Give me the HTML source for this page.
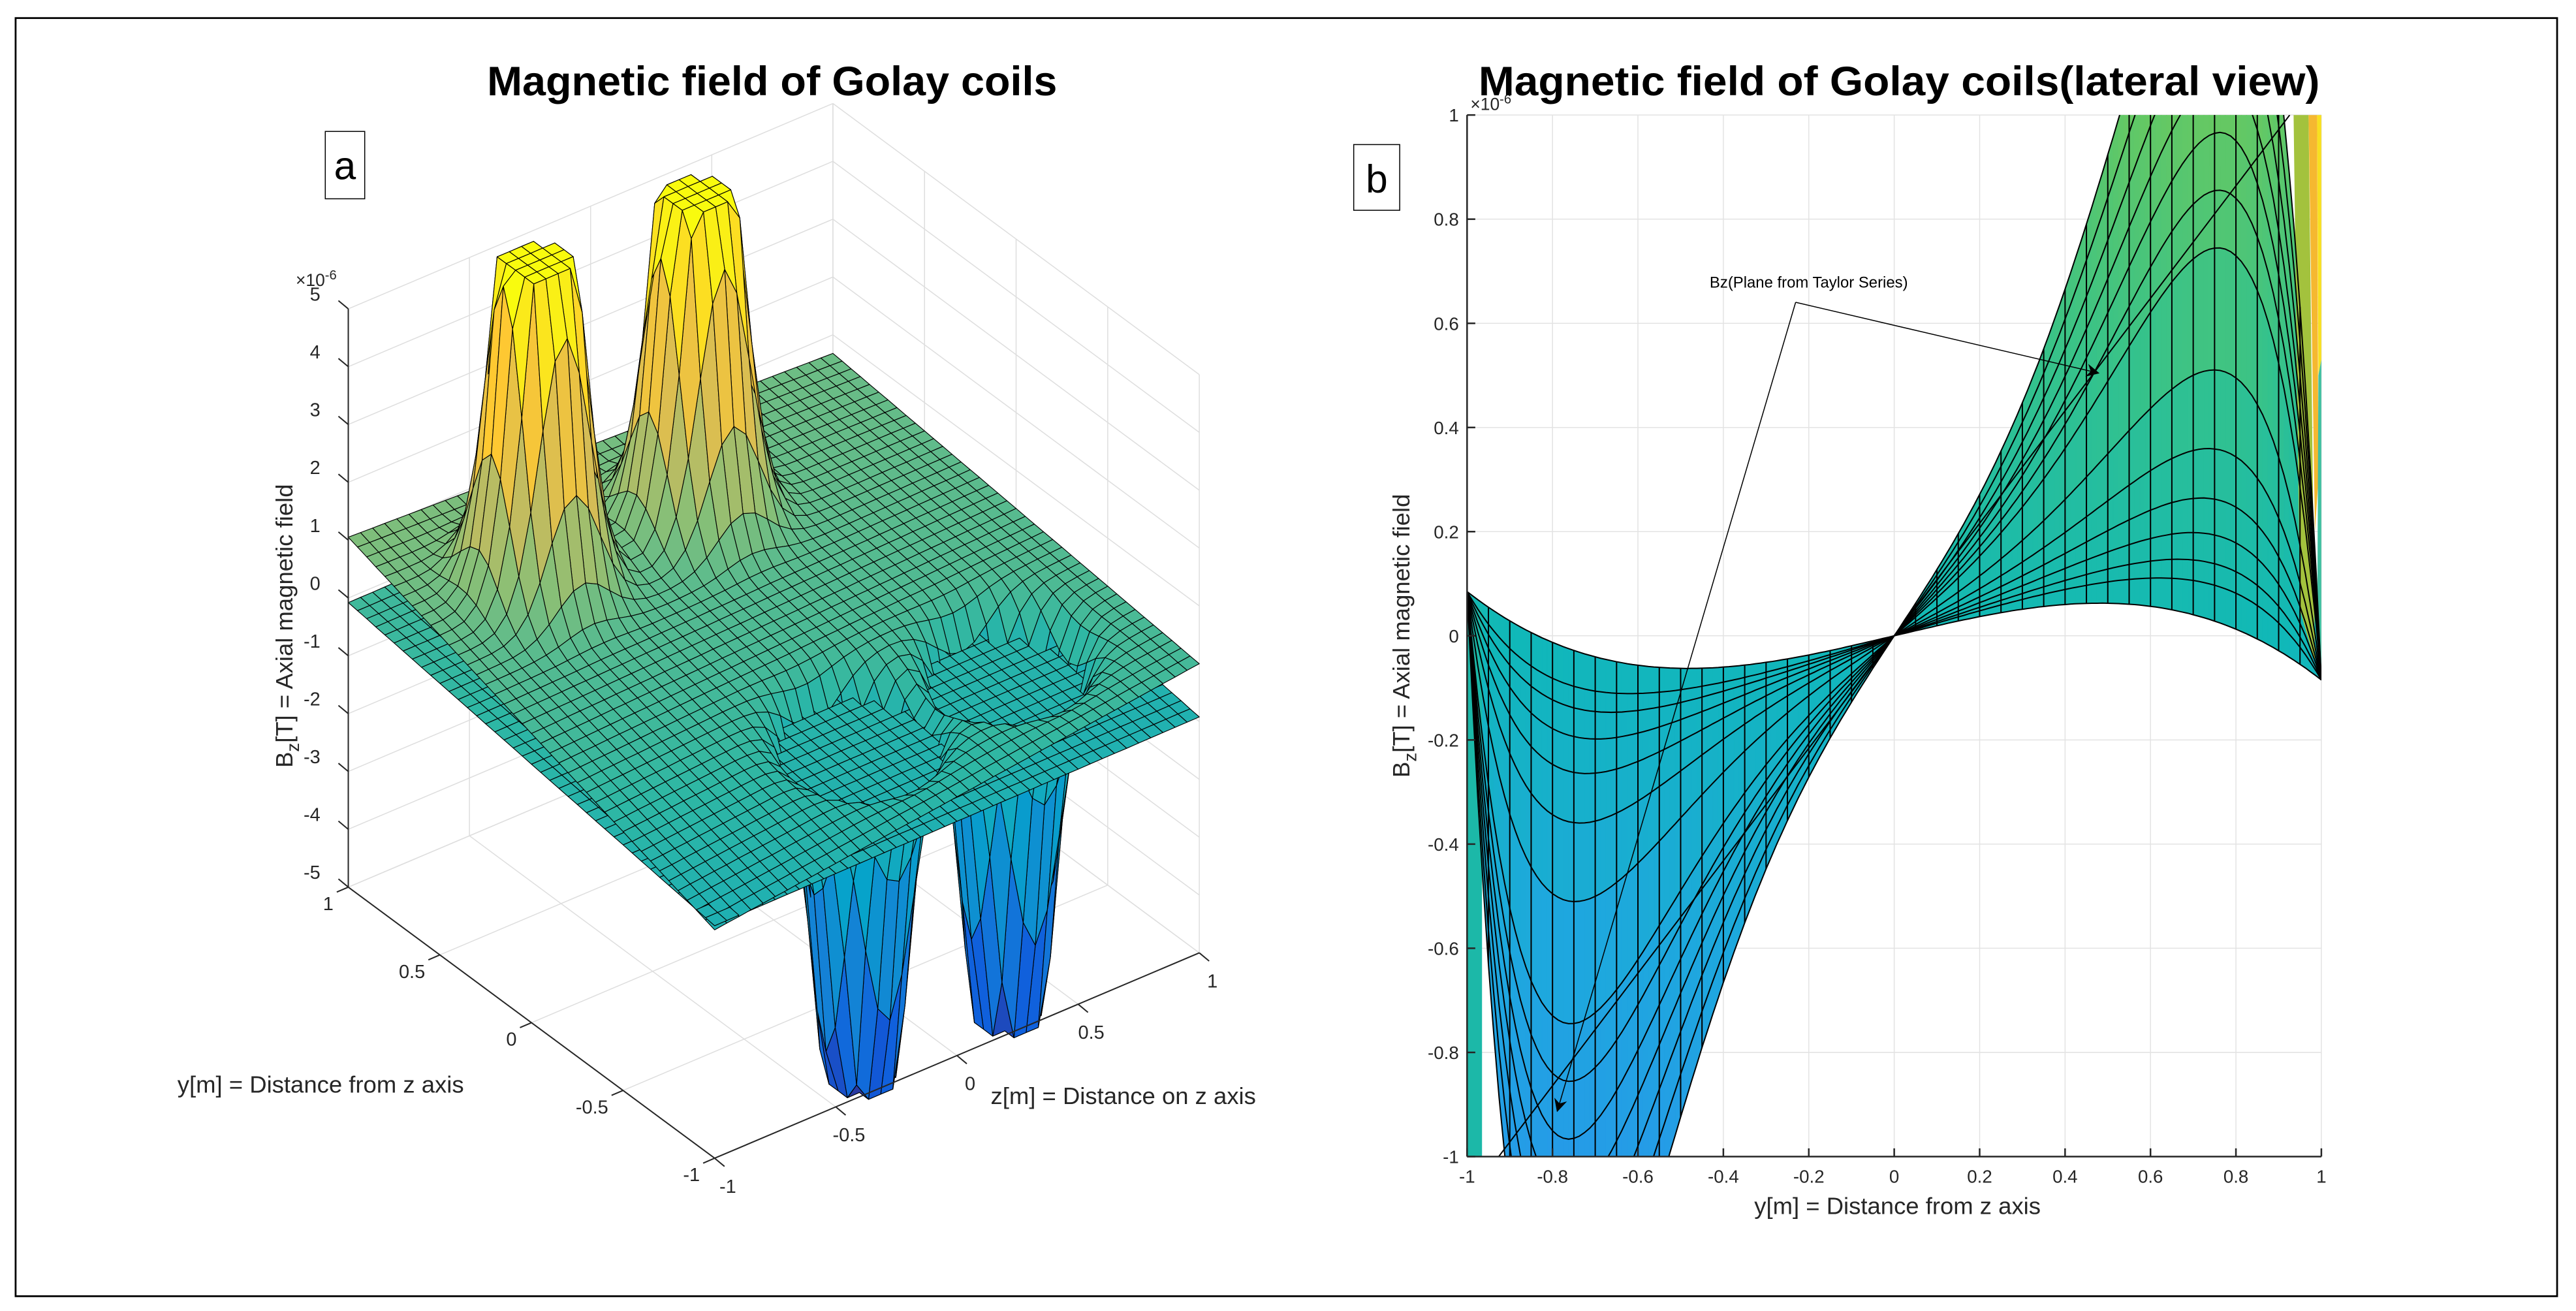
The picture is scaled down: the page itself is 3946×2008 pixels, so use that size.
<!DOCTYPE html>
<html><head><meta charset="utf-8"><style>
html,body{margin:0;padding:0;background:#fff;overflow:hidden;width:3946px;height:2008px}
svg{display:block}
text{font-family:"Liberation Sans",Arial,sans-serif;fill:#262626}
</style></head><body>
<svg id="fig" width="3946" height="2008" viewBox="0 0 1568 798" preserveAspectRatio="none" xmlns="http://www.w3.org/2000/svg">
<rect x="0" y="0" width="1568" height="798" fill="#fff"/>
<rect x="9.5" y="11" width="1547" height="778" fill="none" stroke="#000" stroke-width="1.1"/>
<g id="left"></g>
<g id="right"></g>
<text x="470" y="58" text-anchor="middle" font-size="25" font-weight="bold" style="fill:#000" textLength="347" lengthAdjust="spacingAndGlyphs">Magnetic field of Golay coils</text>
<text x="1156" y="58" text-anchor="middle" font-size="25" font-weight="bold" style="fill:#000" textLength="512" lengthAdjust="spacingAndGlyphs">Magnetic field of Golay coils(lateral view)</text>
<rect x="198" y="80" width="24" height="41" fill="#fff" stroke="#000" stroke-width="0.6"/>
<text x="210" y="109" text-anchor="middle" font-size="24" style="fill:#000">a</text>
<rect x="824" y="88" width="28" height="40" fill="#fff" stroke="#000" stroke-width="0.6"/>
<text x="838" y="117" text-anchor="middle" font-size="24" style="fill:#000">b</text>
</svg>
<script>
// ---------- data: panel a (3D surfaces) ----------
const zTicks=[5,4,3,2,1,0,-1,-2,-3,-4,-5];
const uTicks=[1,0.5,0,-0.5,-1];
const vTicks=[-1,-0.5,0,0.5,1];
const baseCoef=[0.17,0.695,0.17,-0.355];      // golay surface bilinear base a,b,c,d
const planeCoef=[-0.5,0.45,0.03];             // Taylor plane a + b*u + c*v
const bumpU=[0.55,0.55,-0.55,-0.55];
const bumpV=[-0.56,0.1,-0.06,0.55];
const bumpAmp=[13,13,-13,-13];
const bumpCap=[6.1,-6.4];
// ---------- data: panel b (lateral view) ----------
const curveC=[0,0.05,0.08,0.12,0.17,0.24,0.35,0.52,0.6,0.68,0.76,0.85,0.95,1.05];
const baseK=[0.28,-0.085];
const planeSlope=[1.08];
const yTicksB=[-1,-0.8,-0.6,-0.4,-0.2,0,0.2,0.4,0.6,0.8,1];
const xTicksB=[-1,-0.8,-0.6,-0.4,-0.2,0,0.2,0.4,0.6,0.8,1];

const NS="http://www.w3.org/2000/svg";
function mk(tag,attrs,parent){const e=document.createElementNS(NS,tag);for(const k in attrs)e.setAttribute(k,attrs[k]);parent.appendChild(e);return e;}
const P=[[0,[53,42,135]],[0.125,[15,92,221]],[0.25,[20,129,214]],[0.375,[6,164,202]],[0.5,[46,183,164]],[0.625,[135,191,119]],[0.75,[209,187,89]],[0.875,[254,200,50]],[1,[249,251,14]]];
function parula(t){t=Math.max(0,Math.min(1,t));for(let i=0;i<P.length-1;i++){if(t<=P[i+1][0]){const f=(t-P[i][0])/(P[i+1][0]-P[i][0]);const a=P[i][1],b=P[i+1][1];return `rgb(${Math.round(a[0]+f*(b[0]-a[0]))},${Math.round(a[1]+f*(b[1]-a[1]))},${Math.round(a[2]+f*(b[2]-a[2]))})`;}}return 'rgb(249,251,14)';}

// ---------- panel a ----------
const L=document.getElementById('left');
function proj(u,v,b){return [212+111.5*(1-u)+147.5*(v+1),540+82.5*(1-u)-62.5*(v+1)-35.2*(b+5)];}
function golay(u,v){let z=baseCoef[0]+baseCoef[1]*u+baseCoef[2]*v+baseCoef[3]*u*v;for(let i=0;i<bumpU.length;i++){const r2=(u-bumpU[i])**2+(v-bumpV[i])**2;z+=bumpAmp[i]*Math.exp(-r2/(2*0.105*0.105));}return Math.max(bumpCap[1],Math.min(bumpCap[0],z));}
function plane(u,v){return planeCoef[0]+planeCoef[1]*u+planeCoef[2]*v;}
const gridG=mk('g',{stroke:'#dedede','stroke-width':'0.6',fill:'none'},L);


function line3(a,b,g,extra){const p=proj(...a),q=proj(...b);return mk('line',Object.assign({x1:p[0],y1:p[1],x2:q[0],y2:q[1]},extra||{}),g);}
zTicks.forEach(z=>{line3([1,-1,z],[1,1,z],gridG);line3([1,1,z],[-1,1,z],gridG);});
vTicks.forEach(v=>{line3([1,v,-5],[1,v,5],gridG);line3([1,v,-5],[-1,v,-5],gridG);});
uTicks.forEach(u=>{line3([u,1,-5],[u,1,5],gridG);line3([u,-1,-5],[u,1,-5],gridG);});
const quads=[];const N=40;
for(let s=0;s<2;s++){const f=s?golay:plane;for(let i=0;i<N;i++)for(let j=0;j<N;j++){
 const u0=-1+2*i/N,u1=-1+2*(i+1)/N,v0=-1+2*j/N,v1=-1+2*(j+1)/N;
 const z=[f(u0,v0),f(u1,v0),f(u1,v1),f(u0,v1)];
 const pts=[proj(u0,v0,z[0]),proj(u1,v0,z[1]),proj(u1,v1,z[2]),proj(u0,v1,z[3])];
 let zm=(z[0]+z[1]+z[2]+z[3])/4;const um=(u0+u1)/2,vm=(v0+v1)/2;
 const fy=82.5*(1-um)-62.5*(vm+1);
 const d=fy+35.2*zm/3;
 if(zm<-1.5)zm=Math.max(...z)-0.3*(Math.max(...z)-Math.min(...z));
 quads.push({pts,zm,d,s});}}
quads.sort((a,b)=>a.d-b.d);
const surfG=mk('g',{stroke:'#000','stroke-width':'0.45','stroke-linejoin':'round'},L);


quads.forEach(q=>{mk('path',{d:'M'+q.pts.map(p=>p[0].toFixed(1)+','+p[1].toFixed(1)).join('L')+'Z',fill:parula((q.zm+6.4)/12.5+0.02)},surfG);});
const axG=mk('g',{stroke:'#262626','stroke-width':'0.8',fill:'none'},L);


line3([1,-1,-5],[1,-1,5],axG);line3([1,-1,-5],[-1,-1,-5],axG);line3([-1,-1,-5],[-1,1,-5],axG);
const tG=mk('g',{'font-size':'11.5'},L);


zTicks.forEach(z=>{const p=proj(1,-1,z);mk('line',{x1:p[0],y1:p[1],x2:p[0]-6,y2:p[1]-5,stroke:'#262626','stroke-width':'0.8'},axG);const t=mk('text',{x:p[0]-17,y:p[1]-5,'text-anchor':'end'},tG);t.textContent=z;});
uTicks.forEach(u=>{const p=proj(u,-1,-5);mk('line',{x1:p[0],y1:p[1],x2:p[0]-7,y2:p[1]+3,stroke:'#262626','stroke-width':'0.8'},axG);const t=mk('text',{x:p[0]-9,y:p[1]+14,'text-anchor':'end'},tG);t.textContent=u;});
vTicks.forEach(v=>{const p=proj(-1,v,-5);mk('line',{x1:p[0],y1:p[1],x2:p[0]+6,y2:p[1]+5,stroke:'#262626','stroke-width':'0.8'},axG);const t=mk('text',{x:p[0]+8,y:p[1]+21,'text-anchor':'middle'},tG);t.textContent=v;});
const ex=mk('text',{x:180,y:174,'font-size':'10.5'},L);


ex.innerHTML='×10<tspan dy="-4" font-size="8">-6</tspan>';
const zl=mk('text',{x:0,y:0,'font-size':'14.5','text-anchor':'middle',transform:'translate(178,381) rotate(-90)'},L);


zl.innerHTML='B<tspan dy="4" font-size="11">z</tspan><tspan dy="-4">[T] = Axial magnetic field</tspan>';
const yl=mk('text',{x:108,y:665,'font-size':'14.5'},L);


yl.textContent='y[m] = Distance from z axis';
const xl=mk('text',{x:603,y:672,'font-size':'14.5'},L);


xl.textContent='z[m] = Distance on z axis';

// ---------- panel b ----------
const R=document.getElementById('right');
const X=y=>893+(y+1)*260, Y=v=>387-v*317;
mk('defs',{},R).innerHTML='<clipPath id="cpb"><rect x="893" y="70" width="520" height="634"/></clipPath><marker id="arr" markerWidth="8" markerHeight="8" refX="7" refY="4" orient="auto" markerUnits="userSpaceOnUse"><path d="M0,0L8,4L0,8L2.5,4Z" fill="#000"/></marker>';
const gb=mk('g',{stroke:'#e3e3e3','stroke-width':'0.6'},R);


xTicksB.forEach(x=>mk('line',{x1:X(x),y1:70,x2:X(x),y2:704},gb));
yTicksB.forEach(v=>mk('line',{x1:893,y1:Y(v),x2:1413,y2:Y(v)},gb));
function curve(c,y){return baseK[0]*y*(1-y*y)+baseK[1]*y+c*(y+3*Math.pow(y,3))*(1-Math.pow(y,4));}
function rcol(v){const s=[[-1.2,[40,150,235]],[-0.6,[30,168,222]],[0,[16,184,184]],[0.5,[52,194,140]],[1,[100,200,100]],[2,[170,195,60]]];v=Math.max(-1.2,Math.min(2,v));for(let i=0;i<s.length-1;i++)if(v<=s[i+1][0]){const f=(v-s[i][0])/(s[i+1][0]-s[i][0]);const a=s[i][1],b=s[i+1][1];return `rgb(${Math.round(a[0]+f*(b[0]-a[0]))},${Math.round(a[1]+f*(b[1]-a[1]))},${Math.round(a[2]+f*(b[2]-a[2]))})`;}return 'rgb(170,195,60)';}
const fb=mk('g',{'clip-path':'url(#cpb)'},R);


const M=40, MF=160;
for(let i=0;i<MF;i++){const y0=-1+2*i/MF,y1=-1+2*(i+1)/MF;for(let k=0;k<curveC.length-1;k++){
 const a0=curve(curveC[k],y0),a1=curve(curveC[k],y1),b0=curve(curveC[k+1],y0),b1=curve(curveC[k+1],y1);
 const col=rcol((a0+a1+b0+b1)/4);
 mk('path',{d:`M${X(y0).toFixed(2)},${Y(a0).toFixed(2)}L${X(y1).toFixed(2)},${Y(a1).toFixed(2)}L${X(y1).toFixed(2)},${Y(b1).toFixed(2)}L${X(y0).toFixed(2)},${Y(b0).toFixed(2)}Z`,fill:col,stroke:col,'stroke-width':'0.4'},fb);}}
mk('path',{d:`M${X(-1)},${Y(0.07)}L${X(-0.965)},${Y(0.05)}L${X(-0.965)},${Y(-1)}L${X(-1)},${Y(-1)}Z`,fill:'#1cb8a8'},fb);
mk('path',{d:`M${X(0.935)},${Y(1)}L${X(0.97)},${Y(1)}L${X(0.985)},${Y(-0.05)}L${X(0.95)},${Y(0.05)}Z`,fill:'#a3c23d'},fb);
mk('path',{d:`M${X(0.97)},${Y(1)}L${X(0.99)},${Y(1)}L${X(0.993)},${Y(0.3)}L${X(0.985)},${Y(0.2)}Z`,fill:'#f5b830'},fb);
mk('path',{d:`M${X(0.99)},${Y(1)}L${X(1)},${Y(1)}L${X(1)},${Y(0.53)}L${X(0.993)},${Y(0.5)}Z`,fill:'#f8e020'},fb);
mk('path',{d:`M${X(0.993)},${Y(0.5)}L${X(1)},${Y(0.53)}L${X(1)},${Y(-0.08)}L${X(0.99)},${Y(-0.05)}Z`,fill:'#40c0a0'},fb);
const lb=mk('g',{stroke:'#000','stroke-width':'0.8',fill:'none','clip-path':'url(#cpb)'},R);


curveC.forEach(c=>{let d='';for(let i=0;i<=MF;i++){const y=-1+2*i/MF;d+=(i?'L':'M')+X(y).toFixed(1)+','+Y(curve(c,y)).toFixed(1);}mk('path',{d},lb);});
for(let i=0;i<=M;i++){const y=-1+2*i/M;mk('line',{x1:X(y),y1:Y(curve(curveC[0],y)),x2:X(y),y2:Y(curve(curveC[curveC.length-1],y))},lb);}
mk('line',{x1:X(-1/planeSlope[0]),y1:Y(-1),x2:X(1/planeSlope[0]),y2:Y(1)},lb);
const ab=mk('g',{stroke:'#262626','stroke-width':'1',fill:'none'},R);


mk('line',{x1:893,y1:70,x2:893,y2:704},ab);mk('line',{x1:893,y1:704,x2:1413,y2:704},ab);
const tb=mk('g',{'font-size':'11'},R);


yTicksB.forEach(v=>{mk('line',{x1:893,y1:Y(v),x2:898,y2:Y(v)},ab);const t=mk('text',{x:888,y:Y(v)+4,'text-anchor':'end'},tb);t.textContent=v;});
xTicksB.forEach(x=>{mk('line',{x1:X(x),y1:704,x2:X(x),y2:699},ab);const t=mk('text',{x:X(x),y:720,'text-anchor':'middle'},tb);t.textContent=x;});
const ex2=mk('text',{x:895,y:67,'font-size':'10.5'},R);


ex2.innerHTML='×10<tspan dy="-4" font-size="8">-6</tspan>';
const yl2=mk('text',{x:0,y:0,'font-size':'14.5','text-anchor':'middle',transform:'translate(858,387) rotate(-90)'},R);


yl2.innerHTML='B<tspan dy="4" font-size="11">z</tspan><tspan dy="-4">[T] = Axial magnetic field</tspan>';
const xl2=mk('text',{x:1155,y:739,'font-size':'14.5','text-anchor':'middle'},R);


xl2.textContent='y[m] = Distance from z axis';
const an=mk('g',{},R);


mk('line',{x1:1093,y1:184,x2:1277,y2:227,stroke:'#000','stroke-width':'0.6','marker-end':'url(#arr)'},an);
mk('line',{x1:1093,y1:184,x2:948,y2:676,stroke:'#000','stroke-width':'0.6','marker-end':'url(#arr)'},an);
const at=mk('text',{x:1101,y:175,'font-size':'9.5','text-anchor':'middle',style:'fill:#000'},an);
at.textContent='Bz(Plane from Taylor Series)';
</script>
</body></html>
